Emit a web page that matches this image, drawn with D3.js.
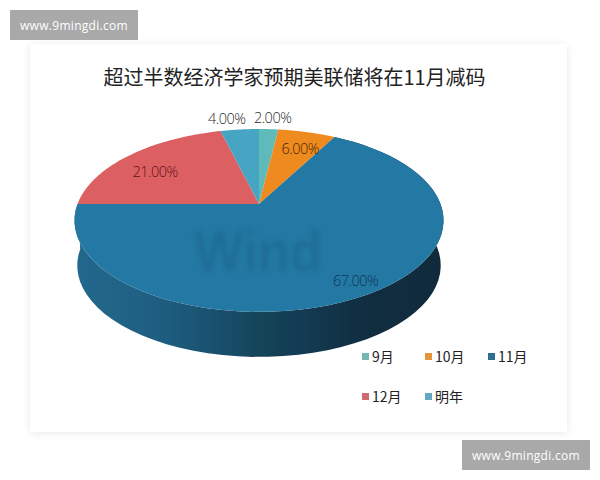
<!DOCTYPE html>
<html><head><meta charset="utf-8">
<script src="https://cdnjs.cloudflare.com/ajax/libs/d3/7.8.5/d3.min.js"></script>
<style>html,body{margin:0;padding:0;background:#fff}svg{display:block}</style>
</head><body><svg id="c" width="600" height="480"></svg>
<script>
const categories = ["9月","10月","11月","12月","明年"];
const values = [2,6,67,21,4];
const colors = ["#5fbaba","#ee8a1e","#2379a3","#dc5f62","#47a5c4"];
const legendColors = ["#73b8b4","#e4953a","#2f6d90","#cf6b70","#62a8c0"];
const title = "超过半数经济学家预期美联储将在11月减码";
const site = "www.9mingdi.com";

(function(){
const svg = d3.select("#c");
const defs = svg.append("defs");
const F = "'Noto Sans CJK SC','Noto Sans',sans-serif";

const sh = defs.append("filter").attr("id","sh").attr("x","-5%").attr("y","-5%").attr("width","110%").attr("height","110%");
sh.append("feGaussianBlur").attr("stdDeviation",4);
const bl = defs.append("filter").attr("id","bl");
bl.append("feGaussianBlur").attr("stdDeviation",2);

// page card
svg.append("rect").attr("x",30).attr("y",45).attr("width",537).attr("height",388).attr("fill","#000").attr("opacity",.09).attr("filter","url(#sh)");
svg.append("rect").attr("x",30).attr("y",44).attr("width",537).attr("height",388).attr("fill","#fff");

svg.append("text").attr("x",294.5).attr("y",85).attr("text-anchor","middle").attr("font-family",F)
  .attr("font-size",20).attr("fill","#222").text(title);

// perspective pie
const cx=259, cy=204, a=181.5, b=88.5, p=.18, depth=45, shrink=.985;
const project=(t,r=1)=>{const u=r*Math.sin(t),v=r*Math.cos(t),w=1+p*v;return [cx+a*u/w,cy-b*v/w];};
const lower=([x,y])=>[cx+(x-cx)*shrink,y+depth];
const samples=(s,e)=>d3.range(0,61).map(i=>s+(e-s)*i/60);
const line=d3.line();
const arcs=d3.pie().sort(null)(values);

// side wall gradient
const stops=[[0,"#22688c"],[.1,"#216488"],[.25,"#1d5c7e"],[.42,"#184c67"],[.5,"#154459"],[.62,"#133b53"],[.76,"#112f42"],[1,"#102a3b"]];
const g=defs.append("linearGradient").attr("id","side").attr("gradientUnits","userSpaceOnUse")
  .attr("x1",cx-a).attr("x2",cx+a+2).attr("y1",0).attr("y2",0);
stops.forEach(s=>g.append("stop").attr("offset",s[0]).attr("stop-color",s[1]));

const rim=arcs[2];
const upper=samples(rim.startAngle,rim.endAngle).map(t=>project(t));
const bot=upper.map(lower).reverse();
svg.append("path").attr("d",line(upper.concat(bot))+"Z").attr("fill","url(#side)");

// top faces
svg.append("g").selectAll("path").data(arcs).join("path")
  .attr("d",d=>line([[cx,cy]].concat(samples(d.startAngle,d.endAngle).map(t=>project(t))))+"Z")
  .attr("fill",(d,i)=>colors[i]);

// watermark
svg.append("text").attr("x",258).attr("y",271).attr("text-anchor","middle")
  .attr("font-family","'Liberation Sans',sans-serif").attr("font-weight","bold").attr("font-size",58)
  .attr("textLength",128).attr("lengthAdjust","spacingAndGlyphs")
  .attr("fill","#1a6890").attr("opacity",.6).attr("filter","url(#bl)").text("Wind");

// data labels
const placement=[[1.12,3,-4],[.75,4,0],[.9,0,-3],[.78,-1,6],[1.12,-11,-4]];
const lblColor=["#2a2a2a","#4a2808","#0f3558","#5e1518","#2a2a2a"];
svg.append("g").selectAll("text").data(arcs).join("text")
  .attr("transform",(d,i)=>{const [r,dx,dy]=placement[i];const q=project((d.startAngle+d.endAngle)/2,r);return `translate(${q[0]+dx},${q[1]+dy})`;})
  .attr("text-anchor","middle").attr("dominant-baseline","central")
  .attr("font-family","'Open Sans',sans-serif").attr("font-weight",300).attr("font-size",14.5).attr("letter-spacing",-.5)
  .attr("fill",(d,i)=>lblColor[i]).text(d=>d.value.toFixed(2)+"%");

// legend
const lx=d3.scalePoint().domain([0,1,2]).range([362,488]);
const ly=d3.scalePoint().domain([0,1]).range([357,397]);
const items=svg.append("g").selectAll("g").data(categories).join("g")
  .attr("transform",(d,i)=>`translate(${lx(i%3)},${ly(Math.floor(i/3))})`);
items.append("rect").attr("y",-4).attr("width",7).attr("height",7).attr("fill",(d,i)=>legendColors[i]);
items.append("text").attr("x",10).attr("y",5).attr("font-family",F).attr("font-size",14).attr("fill","#222").text(d=>d);

// site stamps
const stamps=svg.append("g").selectAll("g").data([[10,10],[462,440]]).join("g").attr("transform",d=>`translate(${d[0]},${d[1]})`);
stamps.append("rect").attr("width",128).attr("height",30).attr("fill","#a9a9a9");
stamps.append("text").attr("x",64).attr("y",19.5).attr("text-anchor","middle").attr("font-family","'Open Sans',sans-serif")
  .attr("font-size",12).attr("letter-spacing",.3).attr("fill","#fff").text(site);
})();
</script></body></html>
